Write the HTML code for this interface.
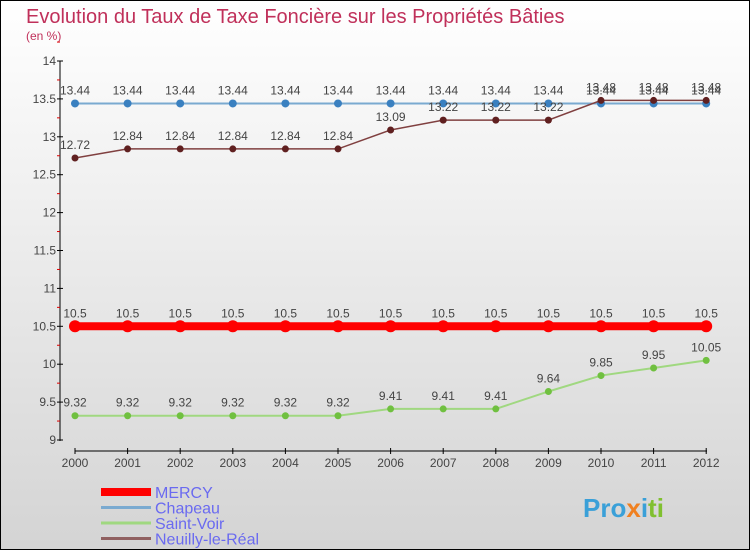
<!DOCTYPE html>
<html><head><meta charset="utf-8"><style>
body{margin:0}
#c{width:748px;height:548px;border:1px solid #000;background:linear-gradient(#fff,#d4d4d4);position:relative;font-family:"Liberation Sans",sans-serif}
</style></head><body>
<div id="c">
<svg width="748" height="548" xmlns="http://www.w3.org/2000/svg" id="s">
<text x="25" y="22" font-size="20" fill="#c0305a">Evolution du Taux de Taxe Foncière sur les Propriétés Bâties</text>
<text x="25" y="39" font-size="12" fill="#c0305a">(en %)</text>
<g id="axes"></g><g id="series"></g><g id="legend"></g>
<text x="582" y="516" font-size="26" font-weight="bold" fill="#3aa0d8">Pro<tspan fill="#f08020">x</tspan><tspan fill="#3aa0d8">i</tspan><tspan fill="#80c030">ti</tspan></text>
</svg></div>
<script>
const years=[2000,2001,2002,2003,2004,2005,2006,2007,2008,2009,2010,2011,2012];
const yTicks=[9,9.5,10,10.5,11,11.5,12,12.5,13,13.5,14];
const mercy=[10.5,10.5,10.5,10.5,10.5,10.5,10.5,10.5,10.5,10.5,10.5,10.5,10.5];
const chapeau=[13.44,13.44,13.44,13.44,13.44,13.44,13.44,13.44,13.44,13.44,13.44,13.44,13.44];
const saintVoir=[9.32,9.32,9.32,9.32,9.32,9.32,9.41,9.41,9.41,9.64,9.85,9.95,10.05];
const neuilly=[12.72,12.84,12.84,12.84,12.84,12.84,13.09,13.22,13.22,13.22,13.48,13.48,13.48];
const NS="http://www.w3.org/2000/svg";
const xs=i=>74+i*52.6, ys=v=>60+(14-v)*75.8;
function mk(p,t,a){const e=document.createElementNS(NS,t);for(const k in a)e.setAttribute(k,a[k]);p.appendChild(e);return e;}
const ax=document.getElementById('axes');
let yl=mk(ax,'line',{x1:59,y1:60,x2:59,y2:440,stroke:'#000'});


yTicks.forEach(v=>{mk(ax,'line',{x1:56,y1:ys(v),x2:62,y2:ys(v),stroke:'#000'});
 mk(ax,'line',{x1:56,y1:ys(v+0.25),x2:59,y2:ys(v+0.25),stroke:'#d00'});
 const t=mk(ax,'text',{x:55,y:ys(v)+4,'font-size':12,'text-anchor':'end',fill:'#444'});t.textContent=v;
 
 });
let xl=mk(ax,'line',{x1:74,y1:450,x2:706,y2:450,stroke:'#000'});


years.forEach((y,i)=>{mk(ax,'line',{x1:xs(i),y1:447,x2:xs(i),y2:453,stroke:'#000'});
 const t=mk(ax,'text',{x:xs(i),y:466,'font-size':12,'text-anchor':'middle',fill:'#444'});t.textContent=y;
 
 });
const se=document.getElementById('series');
function draw(d,col,dot,w,r,name,lab){
 const pl=mk(se,'polyline',{points:d.map((v,i)=>xs(i)+','+ys(v)).join(' '),fill:'none',stroke:col,'stroke-width':w});
 
 
 d.forEach((v,i)=>{const c=mk(se,'circle',{cx:xs(i),cy:ys(v),r:r,fill:dot});
  
  
  const t=mk(se,'text',{x:xs(i),y:ys(v)-9,'font-size':12,'text-anchor':'middle',fill:'#444'});t.textContent=lab?lab(v):v;
  
  });
}
draw(chapeau,'#7aaad0','#3a80c0',2,4,'chapeau');
draw(neuilly,'#804040','#602020',1.5,3.5,'neuilly');
draw(saintVoir,'#a0d880','#70c040',2,3.5,'saint-voir');
draw(mercy,'#f00','#f00',8,6,'mercy');
const lg=document.getElementById('legend');
[['MERCY','#f00',8],['Chapeau','#7aaad0',3],['Saint-Voir','#a0d880',3],['Neuilly-le-Réal','#906060',3]].forEach((e,i)=>{
 const y=491+i*15.5;
 const l=mk(lg,'line',{x1:100,y1:y,x2:150,y2:y,stroke:e[1],'stroke-width':e[2]});
 
 
 const t=mk(lg,'text',{x:154,y:y+6,'font-size':16,fill:'#6a6af0'});t.textContent=e[0];
 
 
});
</script>
</body></html>
